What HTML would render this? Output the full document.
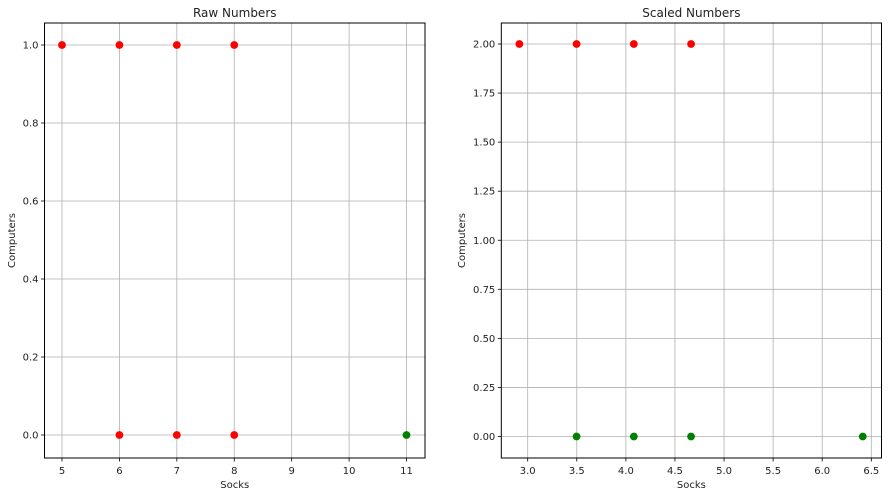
<!DOCTYPE html>
<html><head><meta charset="utf-8">
<style>
html,body{margin:0;padding:0;background:#fff;}
svg{display:block;font-family:"DejaVu Sans","Liberation Sans",sans-serif;}
</style></head>
<body>
<svg id="c" width="891" height="496" viewBox="0 0 891 496"></svg>
<script>
// Left chart data
const rawRedX = [5, 6, 7, 8, 6, 7, 8];
const rawRedY = [1, 1, 1, 1, 0, 0, 0];
const rawGreenX = [11];
const rawGreenY = [0];
const rawXTicks = [5, 6, 7, 8, 9, 10, 11];
const rawYTicks = [0.0, 0.2, 0.4, 0.6, 0.8, 1.0];
const rawYTickLabels = ["0.0", "0.2", "0.4", "0.6", "0.8", "1.0"];
// Right chart data
const scaledRedX = [2.915, 3.498, 4.081, 4.664];
const scaledRedY = [2, 2, 2, 2];
const scaledGreenX = [3.498, 4.081, 4.664, 6.413];
const scaledGreenY = [0, 0, 0, 0];
const scaledXTicks = [3.0, 3.5, 4.0, 4.5, 5.0, 5.5, 6.0, 6.5];
const scaledXTickLabels = ["3.0", "3.5", "4.0", "4.5", "5.0", "5.5", "6.0", "6.5"];
const scaledYTicks = [0, 0.25, 0.5, 0.75, 1.0, 1.25, 1.5, 1.75, 2.0];
const scaledYTickLabels = ["0.00", "0.25", "0.50", "0.75", "1.00", "1.25", "1.50", "1.75", "2.00"];

const svg = document.getElementById('c');
const NS = 'http://www.w3.org/2000/svg';
function mk(tag, attrs, parent) {
  const e = document.createElementNS(NS, tag);
  for (const k in attrs) e.setAttribute(k, attrs[k]);
  (parent || svg).appendChild(e);
  return e;
}

function panel(cfg) {
  const g = mk('g', {});
  
  
  const sx = v => cfg.px0 + (v - cfg.x0) * (cfg.px1 - cfg.px0) / (cfg.x1 - cfg.x0);
  const sy = v => cfg.py0 + (v - cfg.y0) * (cfg.py1 - cfg.py0) / (cfg.y1 - cfg.y0);
  // grid
  cfg.xTicks.forEach((t, i) => {
    const x = sx(t);
    const l = mk('line', {x1: x, x2: x, y1: cfg.top, y2: cfg.bottom, stroke: '#b0b0b0', 'stroke-width': 0.8}, g);
    
    
    mk('line', {x1: x, x2: x, y1: cfg.bottom, y2: cfg.bottom + 3.5, stroke: '#000', 'stroke-width': 0.8}, g);
    const tx = mk('text', {x: x, y: cfg.bottom + 16, 'font-size': 10, 'text-anchor': 'middle', fill: '#222'}, g);
    tx.textContent = cfg.xLabels[i];
    
    
  });
  cfg.yTicks.forEach((t, i) => {
    const y = sy(t);
    const l = mk('line', {x1: cfg.left, x2: cfg.right, y1: y, y2: y, stroke: '#b0b0b0', 'stroke-width': 0.8}, g);
    
    
    mk('line', {x1: cfg.left - 3.5, x2: cfg.left, y1: y, y2: y, stroke: '#000', 'stroke-width': 0.8}, g);
    const tx = mk('text', {x: cfg.left - 6, y: y + 3.5, 'font-size': 10, 'text-anchor': 'end', fill: '#222'}, g);
    tx.textContent = cfg.yLabels[i];
    
    
  });
  // points
  const pts = (xs, ys, color, nm) => xs.forEach((v, i) => {
    const c = mk('circle', {cx: sx(v), cy: sy(ys[i]), r: 3.9, fill: color}, g);
    
    
  });
  pts(cfg.rx, cfg.ry, '#ff0000', 'red-point');
  pts(cfg.gx, cfg.gy, '#008000', 'green-point');
  const fr = mk('rect', {x: cfg.left, y: cfg.top, width: cfg.right - cfg.left, height: cfg.bottom - cfg.top, fill: 'none', stroke: '#000', 'stroke-width': 1}, g);
  
  
  const ti = mk('text', {x: (cfg.left + cfg.right) / 2, y: cfg.top - 6, 'font-size': 12, 'text-anchor': 'middle', fill: '#222'}, g);
  ti.textContent = cfg.title;
  
  
  const xl = mk('text', {x: (cfg.left + cfg.right) / 2, y: cfg.bottom + 30, 'font-size': 10, 'text-anchor': 'middle', fill: '#222'}, g);
  xl.textContent = 'Socks';
  
  
  const yx = cfg.yTitleX, yy = (cfg.top + cfg.bottom) / 2;
  const yl = mk('text', {x: yx, y: yy, 'font-size': 10, 'text-anchor': 'middle', fill: '#222', transform: `rotate(-90 ${yx} ${yy})`}, g);
  yl.textContent = 'Computers';
  
  
}

panel({name: 'raw-numbers-plot', title: 'Raw Numbers', left: 44.5, right: 425, top: 23, bottom: 458,
  x0: 5, x1: 11, px0: 62, px1: 406.5, y0: 0, y1: 1, py0: 435, py1: 45,
  xTicks: rawXTicks, xLabels: rawXTicks.map(String), yTicks: rawYTicks, yLabels: rawYTickLabels,
  rx: rawRedX, ry: rawRedY, gx: rawGreenX, gy: rawGreenY, yTitleX: 15});
panel({name: 'scaled-numbers-plot', title: 'Scaled Numbers', left: 501.3, right: 881.5, top: 23, bottom: 458,
  x0: 3.0, x1: 6.5, px0: 527.7, px1: 871.3, y0: 0, y1: 2, py0: 436.5, py1: 44,
  xTicks: scaledXTicks, xLabels: scaledXTickLabels, yTicks: scaledYTicks, yLabels: scaledYTickLabels,
  rx: scaledRedX, ry: scaledRedY, gx: scaledGreenX, gy: scaledGreenY, yTitleX: 465});
</script>
</body></html>
